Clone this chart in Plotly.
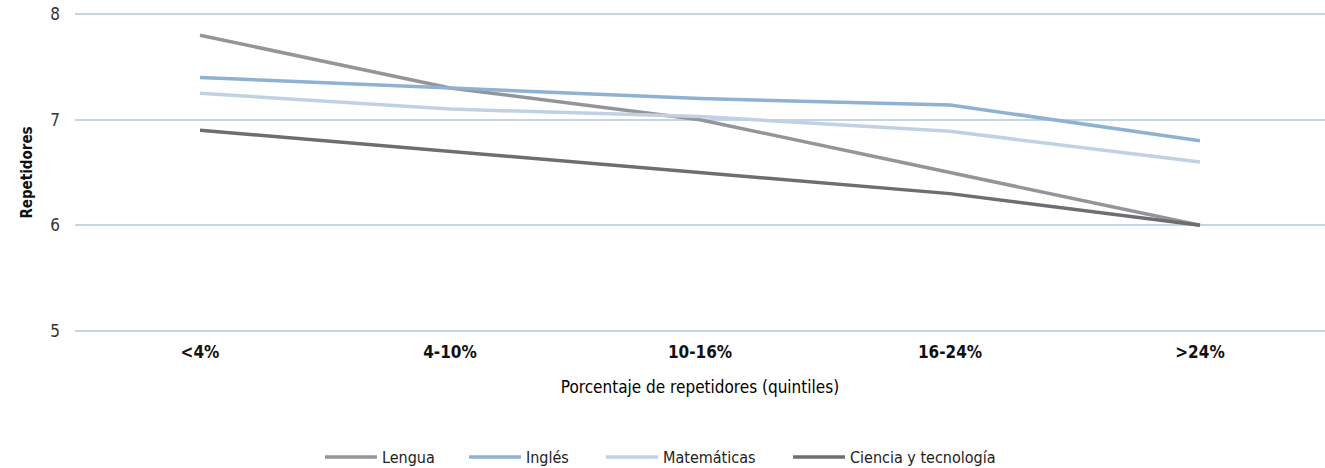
import plotly.graph_objects as go

categories = ["<4%", "4-10%", "10-16%", "16-24%", ">24%"]
lengua = [7.8, 7.3, 7.0, 6.5, 6.0]
ingles = [7.4, 7.3, 7.2, 7.14, 6.8]
matematicas = [7.25, 7.1, 7.03, 6.89, 6.6]
ciencia = [6.9, 6.7, 6.5, 6.3, 6.0]

series = [
    ("Lengua", lengua, "#939598"),
    ("Inglés", ingles, "#8fb1d3"),
    ("Matemáticas", matematicas, "#c0d1e3"),
    ("Ciencia y tecnología", ciencia, "#6d6e71"),
]

FONT = "DejaVu Sans Condensed, Liberation Sans Narrow, Roboto, sans-serif"
W, H = 1325, 468
legend_ids = ["legend", "legend2", "legend3", "legend4"]
legend_left_px = [320, 464, 601, 788]

fig = go.Figure()
for (name, vals, color), lid in zip(series, legend_ids):
    fig.add_trace(go.Scatter(x=categories, y=vals, name=name, mode="lines",
                             line=dict(color=color, width=3.5), legend=lid))

legend_style = dict(orientation="h", xref="container", yref="container", xanchor="left",
                    yanchor="middle", y=(H - 457) / H, font=dict(size=16, color="#222"),
                    itemwidth=52, bgcolor="rgba(0,0,0,0)")
legends = {}
for lid, px in zip(legend_ids, legend_left_px):
    legends[lid] = dict(legend_style, x=px / W)

fig.update_layout(
    width=W, height=H,
    margin=dict(l=75, r=0, t=13, b=136),
    plot_bgcolor="white", paper_bgcolor="white",
    font=dict(family=FONT, size=15, color="#222"),
    xaxis=dict(type="category", range=[-0.5, 4.5], showgrid=False, showline=False,
               automargin=False, ticks="", ticklabelstandoff=8,
               tickfont=dict(size=17, color="#111", weight="bold"),
               title=dict(text="Porcentaje de repetidores (quintiles)",
                          font=dict(size=17, color="#000"), standoff=20)),
    yaxis=dict(range=[4.99, 8.01], tickvals=[5, 6, 7, 8], showgrid=True, gridcolor="#c5d5e6", gridwidth=1.5,
               automargin=False, zeroline=False, showline=False, ticks="", ticklabelstandoff=14,
               ticklabeloverflow="allow",
               tickfont=dict(size=17, color="#333"),
               title=dict(text="Repetidores", font=dict(size=15, color="#111", weight="bold"), standoff=14)),
    showlegend=True,
    **legends,
)

fig.write_html("out.html", config={"displayModeBar": False},
               post_script="document.body.style.margin='0';")
